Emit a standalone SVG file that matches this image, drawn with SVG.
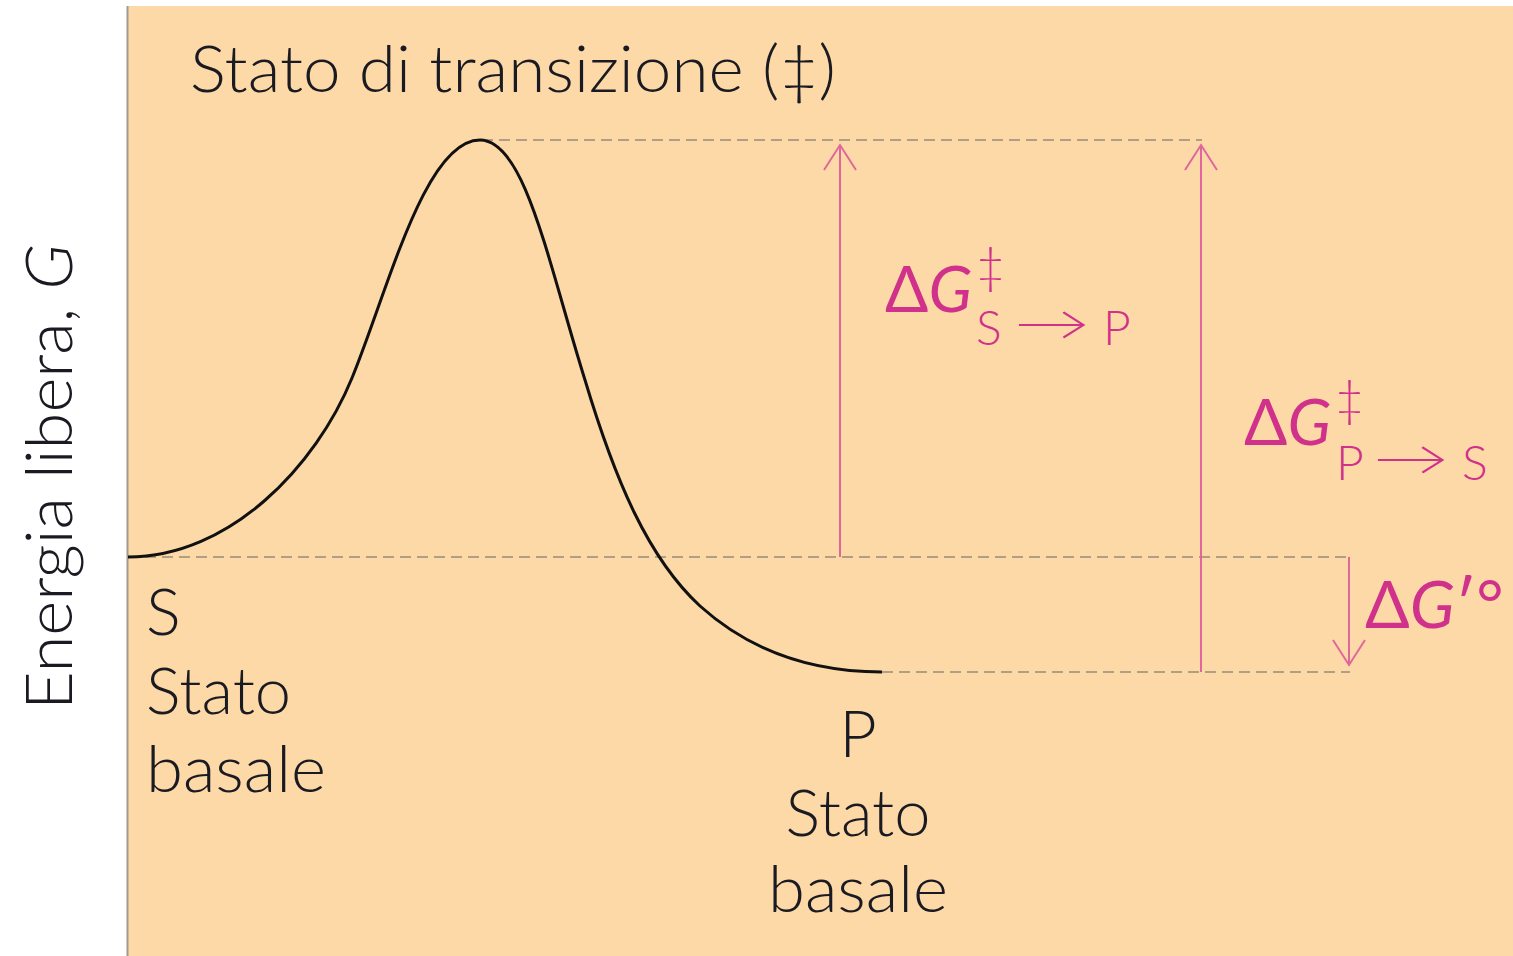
<svg xmlns="http://www.w3.org/2000/svg" width="1513" height="956" viewBox="0 0 1513 956">
<style>
.lbl{font-family:"Lato","Open Sans","Liberation Sans",sans-serif;font-weight:300;fill:#1a1a22;font-size:65px}
.pk{font-family:"Lato","Noto Sans","Liberation Sans",sans-serif;fill:#D0318A}
.sub{font-weight:300}
.sar{font-family:"Lato","Liberation Sans",sans-serif;font-weight:300;fill:#D0318A;font-size:48px}
.dash{stroke:#978c78;stroke-width:1.5;stroke-dasharray:11 6;fill:none}
.arr{stroke:#E0679C;stroke-width:2;fill:none}
</style>
<defs>
<marker id="ah" markerWidth="30" markerHeight="34" refX="28" refY="17" orient="auto" markerUnits="userSpaceOnUse" viewBox="0 0 30 34">
<path d="M3,1 L28,17 L3,33" fill="none" stroke="#E0679C" stroke-width="2"/>
</marker>
</defs>
<rect x="0" y="0" width="1513" height="956" fill="#ffffff"/>
<rect x="128" y="6" width="1385" height="950" fill="#FDD9A8"/>
<line x1="127.5" y1="6" x2="127.5" y2="956" stroke="#a09a90" stroke-width="2"/>

<g id="connectors">
<line class="dash" x1="482" y1="140" x2="1202" y2="140"/>
<line class="dash" x1="128" y1="557" x2="1350" y2="557"/>
<line class="dash" x1="882" y1="672" x2="1350" y2="672"/>
<line class="arr" x1="840" y1="557" x2="840" y2="145" marker-end="url(#ah)"/>
<line class="arr" x1="1201" y1="672" x2="1201" y2="145" marker-end="url(#ah)"/>
<line class="arr" x1="1349" y1="557" x2="1349" y2="665" marker-end="url(#ah)"/>
</g>

<g id="curve">
<path d="M128,557 C230,557 316,466 352,378 C388,290 425,140 480,140 C525,140 548,262 585,380 C615,480 648,558 700,606 C760,660 830,672 882,672" fill="none" stroke="#111" stroke-width="3"/>
</g>

<g id="title">
<text class="lbl" x="190" y="92" textLength="646" lengthAdjust="spacingAndGlyphs">Stato di transizione (‡)</text>
</g>

<g id="yaxis">
<text class="lbl" transform="translate(72,710) rotate(-90)" x="0" y="0" textLength="466" lengthAdjust="spacingAndGlyphs">Energia libera, <tspan font-style="italic">G</tspan></text>
</g>

<g id="node-S">
<text class="lbl" x="146" y="635">S</text>
<text class="lbl" x="146" y="714">Stato</text>
<text class="lbl" x="146" y="792" textLength="180" lengthAdjust="spacingAndGlyphs">basale</text>
</g>

<g id="node-P">
<text class="lbl" x="858" y="757" text-anchor="middle">P</text>
<text class="lbl" x="858" y="836" text-anchor="middle">Stato</text>
<text class="lbl" x="768" y="912" textLength="180" lengthAdjust="spacingAndGlyphs">basale</text>
</g>

<g id="label-SP">
<text class="pk" x="885" y="312" font-size="64">Δ<tspan font-style="italic">G</tspan></text>
<text class="pk sub" x="976" y="283" font-size="50">‡</text>
<text class="pk sub" x="976" y="345" font-size="48">S</text>
<text class="sar" x="1014" y="340" textLength="76" lengthAdjust="spacingAndGlyphs">→</text>
<text class="pk sub" x="1103" y="345" font-size="48">P</text>
</g>

<g id="label-PS">
<text class="pk" x="1244" y="445" font-size="64">Δ<tspan font-style="italic">G</tspan></text>
<text class="pk sub" x="1335" y="416" font-size="50">‡</text>
<text class="pk sub" x="1336" y="480" font-size="48">P</text>
<text class="sar" x="1373" y="475" textLength="76" lengthAdjust="spacingAndGlyphs">→</text>
<text class="pk sub" x="1462" y="480" font-size="48">S</text>
</g>

<g id="label-G0">
<text class="pk" x="1365" y="628" font-size="66">Δ<tspan font-style="italic">G</tspan>′°</text>
</g>
</svg>
